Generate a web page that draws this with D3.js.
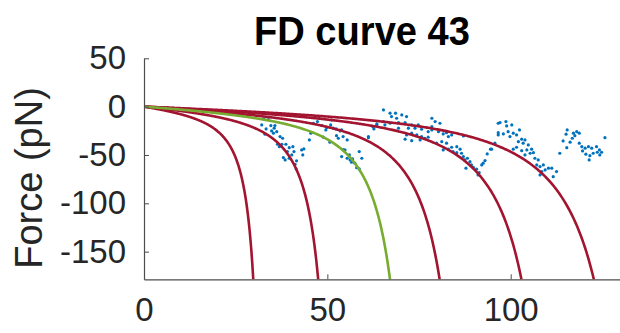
<!DOCTYPE html>
<html>
<head>
<meta charset="utf-8">
<script src="https://cdn.jsdelivr.net/npm/d3@7"></script>
<style>
  body { margin: 0; background: #fff; }
  text { font-family: "Liberation Sans", Arial, sans-serif; }
</style>
</head>
<body>
<div id="graph"></div>
<script>

const title = "FD curve 43";
const yLabel = "Force (pN)";

const xTicks = [0, 50, 100];
const yTicks = [-150, -100, -50, 0, 50];

// WLC fits: contour length (nm) of each fitted curve, and kT/P (pN)
const contourLengths = [35.0, 55.8, 78.8, 94.7, 120.9, 144.1];
const fitColors = ["#A2142F", "#A2142F", "#77AC30", "#A2142F", "#A2142F", "#A2142F"];
const forceScale = 15;

// measured points [extension, force]
const dataPoints = [
  [32.7,-12.7],[33.9,-13.4],[32.1,-18.9],[34.6,-19.6],[35.7,-19.6],[35.5,-22.3],[33.3,-23.1],
  [34.8,-25.1],[36.2,-25.9],[33.0,-28.5],[35.3,-27.5],[37.1,-31.0],[37.8,-32.7],[36.4,-38.9],
  [36.9,-41.4],[37.6,-38.9],[38.7,-38.9],[39.6,-42.4],[40.6,-41.4],[39.1,-46.5],[38.0,-52.7],
  [38.5,-55.1],[40.3,-49.9],[39.6,-53.4],[40.9,-46.5],[41.6,-56.1],[41.2,-59.6],[41.5,-64.4],
  [43.0,-44.8],[43.6,-43.7],[43.3,-49.9],[45.1,-34.4],[45.5,-27.5],

  [46.2,-17.2],[47.3,-15.5],[47.8,-12.0],[48.5,-19.6],[49.8,-21.7],[49.6,-24.1],[51.2,-13.8],
  [50.9,-18.9],[51.6,-22.3],[52.4,-23.1],[53.5,-25.1],[53.9,-24.1],[48.9,-31.6],[52.5,-30.0],
  [54.3,-31.0],[50.7,-36.8],[53.0,-32.7],[55.4,-34.4],[54.3,-44.5],[54.8,-44.8],[53.9,-51.7],
  [56.0,-49.9],[55.4,-53.4],[56.2,-55.1],[56.9,-54.1],[56.6,-57.5],[57.5,-58.5],[58.7,-46.5],
  [59.4,-53.4],[58.0,-63.1],[58.7,-64.4],[62.4,-20.7],[62.7,-23.1],[61.2,-32.1],[63.5,-18.9],

  [65.3,-3.4],[67.1,-6.8],[68.6,-6.8],[70.3,-8.6],[71.6,-10.3],[67.5,-10.3],[68.9,-12.0],
  [65.3,-15.5],[63.5,-17.9],[65.7,-18.9],[67.1,-17.2],[69.4,-16.5],[71.2,-16.5],[73.0,-18.9],
  [74.8,-18.9],[69.4,-22.3],[72.1,-22.3],[73.9,-22.3],[75.7,-23.4],[77.5,-25.9],[78.5,-20.7],
  [71.6,-29.3],[73.0,-27.5],[74.4,-29.3],[75.7,-31.0],[76.6,-32.7],[71.2,-33.7],[73.0,-35.2],
  [75.3,-34.4],[77.5,-31.6],[61.2,-31.0],

  [78.5,-12.0],[79.4,-15.5],[80.7,-17.2],[78.5,-24.1],[80.3,-25.9],[81.6,-28.2],[82.5,-26.9],
  [83.9,-29.3],[83.0,-31.0],[87.1,-30.3],[79.8,-37.8],[81.2,-36.2],[82.5,-37.8],[81.6,-44.8],
  [83.0,-44.0],[83.9,-42.0],[84.3,-46.5],[85.3,-41.4],[86.2,-44.0],[85.3,-47.6],[86.6,-48.2],
  [87.1,-51.7],[87.5,-55.1],[88.2,-53.4],[88.9,-56.9],[87.8,-63.7],[89.3,-60.3],[89.8,-62.7],
  [90.7,-64.7],[91.4,-68.2],[91.1,-70.6],[92.1,-60.3],[92.5,-58.5],[93.0,-55.8],[93.6,-48.9],
  [94.5,-44.0],[95.7,-37.8],[96.6,-17.2],[96.6,-29.3],

  [97.1,-16.5],[98.7,-15.5],[100.3,-18.9],[98.9,-20.0],[96.6,-26.9],[98.0,-28.2],[99.3,-25.9],
  [100.7,-27.5],[101.6,-29.3],[102.4,-24.1],[99.8,-31.0],[103.0,-33.7],[103.9,-34.4],[102.1,-36.2],
  [103.4,-37.8],[104.8,-39.6],[100.7,-44.0],[101.6,-42.0],[103.0,-45.5],[104.4,-44.8],[105.7,-44.0],
  [103.9,-49.9],[105.3,-48.2],[106.2,-47.6],[106.6,-53.4],[107.5,-55.1],[107.1,-60.3],[108.0,-62.0],
  [108.9,-60.3],[108.5,-67.2],[109.4,-65.5],[108.0,-70.6],[110.3,-63.7],[111.2,-63.7],[111.6,-72.4],
  [112.5,-67.2],[94.8,-44.0],[113.4,-48.2],

  [115.4,-24.1],[115.1,-28.5],[117.1,-27.5],[118.0,-25.9],[118.7,-27.5],[117.5,-30.0],[114.3,-35.5],
  [116.2,-36.8],[115.3,-42.4],[118.7,-37.8],[119.4,-41.4],[120.3,-43.0],[119.6,-45.8],[121.2,-41.4],
  [122.1,-43.0],[120.5,-49.2],[121.6,-50.7],[121.4,-55.1],[122.5,-48.2],[123.4,-41.4],[124.2,-44.8],
  [123.6,-47.2],[124.3,-49.9],[124.8,-47.2],[125.7,-32.1],[116.8,-32.7]
];

var margin = {top: 58.3, right: 0, bottom: 53.7, left: 144},
    width = 620.7 - margin.left,
    height = 333 - margin.top - margin.bottom;

var svg = d3.select("#graph").append("svg")
    .attr("width", 620)
    .attr("height", 333);

var g = svg.append("g")
    .attr("transform", "translate(" + margin.left + "," + margin.top + ")");

var x = d3.scaleLinear().domain([0, 130]).range([0, width]);
var y = d3.scaleLinear().domain([-178.6, 50]).range([height, 0]);

g.append("clipPath")
    .attr("id", "plotClip")
  .append("rect")
    .attr("x", 0).attr("y", 0)
    .attr("width", width).attr("height", height);

var plot = g.append("g").attr("clip-path", "url(#plotClip)");

// scatter
plot.selectAll(".pt")
  .data(dataPoints)
  .enter().append("circle")
  .attr("class", "pt")
  .attr("cx", function(d) { return x(d[0]); })
  .attr("cy", function(d) { return y(d[1]); })
  .attr("r", 1.6)
  .attr("fill", "#0072BD");

// worm-like chain model evaluated for each fitted contour length
function wlc(L) {
  var pts = [];
  for (var i = 0; i <= 400; i++) {
    var r = 0.97 * i / 400;
    var f = -forceScale * (1 / (4 * (1 - r) * (1 - r)) - 0.25 + r);
    pts.push([r * L, f]);
    if (f < -200) break;
  }
  return pts;
}

var line = d3.line()
  .x(function(d) { return x(d[0]); })
  .y(function(d) { return y(d[1]); });

// red first, green on top
var order = d3.range(contourLengths.length).sort(function(a, b) {
  return (fitColors[a] === "#77AC30") - (fitColors[b] === "#77AC30");
});
order.forEach(function(i) {
  plot.append("path")
    .attr("d", line(wlc(contourLengths[i])))
    .attr("fill", "none")
    .attr("stroke", fitColors[i])
    .attr("stroke-width", 2.6);
});

// axes
var xAxis = g.append("g")
  .attr("transform", "translate(0," + height + ")")
  .call(d3.axisBottom(x).tickValues(xTicks).tickSizeInner(-5).tickSizeOuter(0).tickPadding(18));

var yAxis = g.append("g")
  .call(d3.axisLeft(y).tickValues(yTicks).tickSizeInner(-5).tickSizeOuter(0).tickPadding(18)
    .tickFormat(function(d) { return d < 0 ? "-" + Math.abs(d) : d; }));

[xAxis, yAxis].forEach(function(a) {
  a.select(".domain").attr("stroke", "#4d4d4d").attr("stroke-width", 1.2);
  a.selectAll(".tick line").attr("stroke", "#4d4d4d");
  a.selectAll(".tick text")
    .attr("fill", "#262626")
    .style("font-size", "33px")
    .style("font-family", "'Liberation Sans', Arial, sans-serif");
});

// y label
svg.append("text")
  .attr("transform", "translate(42,178) rotate(-90)")
  .attr("text-anchor", "middle")
  .style("font-size", "38px")
  .attr("fill", "#262626")
  .text(yLabel);

// title
svg.append("text")
  .attr("x", 254)
  .attr("y", 45)
  .attr("textLength", 216)
  .attr("lengthAdjust", "spacingAndGlyphs")
  .style("font-size", "40px")
  .style("font-weight", "bold")
  .attr("fill", "#000")
  .text(title);

</script>
</body>
</html>
